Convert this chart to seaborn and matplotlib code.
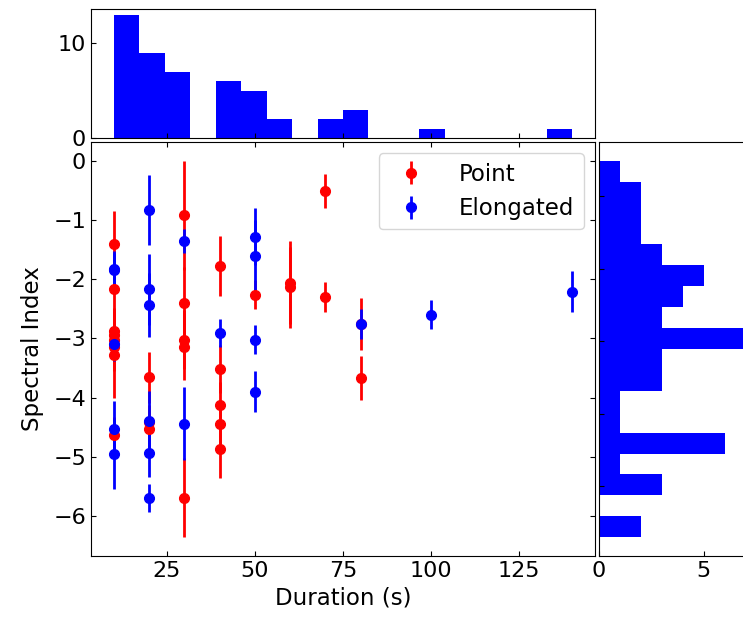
import numpy as np
import pandas as pd
import matplotlib
matplotlib.use("Agg")
import matplotlib.pyplot as plt
from matplotlib.ticker import MultipleLocator
import seaborn as sns

# ---- data ----
point_duration = [10, 10, 10, 10, 10, 10, 10, 10,
                  20, 20, 20,
                  30, 30, 30, 30, 30,
                  40, 40, 40, 40, 40,
                  50, 60, 60, 70, 70, 80, 80]
point_index = [-1.40, -2.16, -2.88, -2.95, -3.02, -3.15, -3.28, -4.63,
               -3.66, -4.42, -4.53,
               -0.92, -2.40, -3.02, -3.14, -5.69,
               -1.78, -3.52, -4.13, -4.45, -4.87,
               -2.26, -2.06, -2.14, -0.51, -2.30, -2.75, -3.67]
point_err = [0.55, 0.50, 0.40, 0.40, 0.40, 0.40, 0.72, 0.30,
             0.43, 0.30, 0.30,
             0.92, 0.60, 0.50, 0.56, 0.67,
             0.51, 0.40, 0.40, 0.40, 0.49,
             0.24, 0.70, 0.68, 0.28, 0.26, 0.44, 0.38]

elong_duration = [10, 10, 10, 10, 10,
                  20, 20, 20, 20, 20, 20,
                  30, 30, 40,
                  50, 50, 50, 50,
                  80, 100, 140]
elong_index = [-1.82, -1.85, -3.09, -4.54, -4.96,
               -0.83, -2.17, -2.44, -4.39, -4.93, -5.70,
               -1.36, -4.44, -2.91,
               -1.28, -1.60, -3.02, -3.90,
               -2.76, -2.60, -2.21]
elong_err = [0.30, 0.30, 0.30, 0.48, 0.59,
             0.59, 0.60, 0.54, 0.50, 0.42, 0.24,
             0.20, 0.61, 0.23,
             0.48, 0.60, 0.25, 0.35,
             0.25, 0.24, 0.34]

labels = ["Point", "Elongated"]
colors = ["red", "blue"]
n_bins = 18

all_duration = point_duration + elong_duration
all_index = point_index + elong_index
df = pd.DataFrame({"duration": all_duration, "index": all_index})

# ---- figure ----
plt.rcParams["font.family"] = ["DejaVu Sans"]
fig = plt.figure(figsize=(7.43, 6.20), dpi=100)

W, H = 743.0, 620.0
ax_main = fig.add_axes([91 / W, (H - 556) / H, 504 / W, 414 / H])
ax_top = fig.add_axes([91 / W, (H - 138) / H, 504 / W, 129 / H], sharex=ax_main)
ax_right = fig.add_axes([599 / W, (H - 556) / H, 154 / W, 414 / H])

fs = 16

ax_main.errorbar(point_duration, point_index, yerr=point_err, fmt="o",
                 color=colors[0], ecolor=colors[0], ms=7, elinewidth=2,
                 capsize=0, label=labels[0])
ax_main.errorbar(elong_duration, elong_index, yerr=elong_err, fmt="o",
                 color=colors[1], ecolor=colors[1], ms=7, elinewidth=2,
                 capsize=0, label=labels[1])
ax_main.set_xlabel("Duration (s)", fontsize=16.5, labelpad=4)
ax_main.set_ylabel("Spectral Index", fontsize=16.5, labelpad=7)
ax_main.xaxis.set_major_locator(MultipleLocator(25))
ax_main.tick_params(direction="in", top=True, right=True, labelsize=fs)
ax_main.legend(loc="upper right", fontsize=16.5, handlelength=2.0,
               handletextpad=1.1, borderaxespad=0.5)

sns.histplot(data=df, x="duration", bins=n_bins, ax=ax_top, color="blue",
             alpha=1, linewidth=0, edgecolor="none")
ax_top.set_xlabel("")
ax_top.set_ylabel("")
ax_top.set_yticks([0, 10])
ax_top.tick_params(direction="in", labelbottom=False, labelsize=fs)

sns.histplot(data=df, y="index", bins=n_bins, ax=ax_right, color="blue",
             alpha=1, linewidth=0, edgecolor="none")
ax_right.set_xlabel("")
ax_right.set_ylabel("")
ax_right.set_xticks([0, 5])
ax_right.tick_params(direction="in", labelleft=False, labelsize=fs)

fig.savefig("out.png", dpi=100)
